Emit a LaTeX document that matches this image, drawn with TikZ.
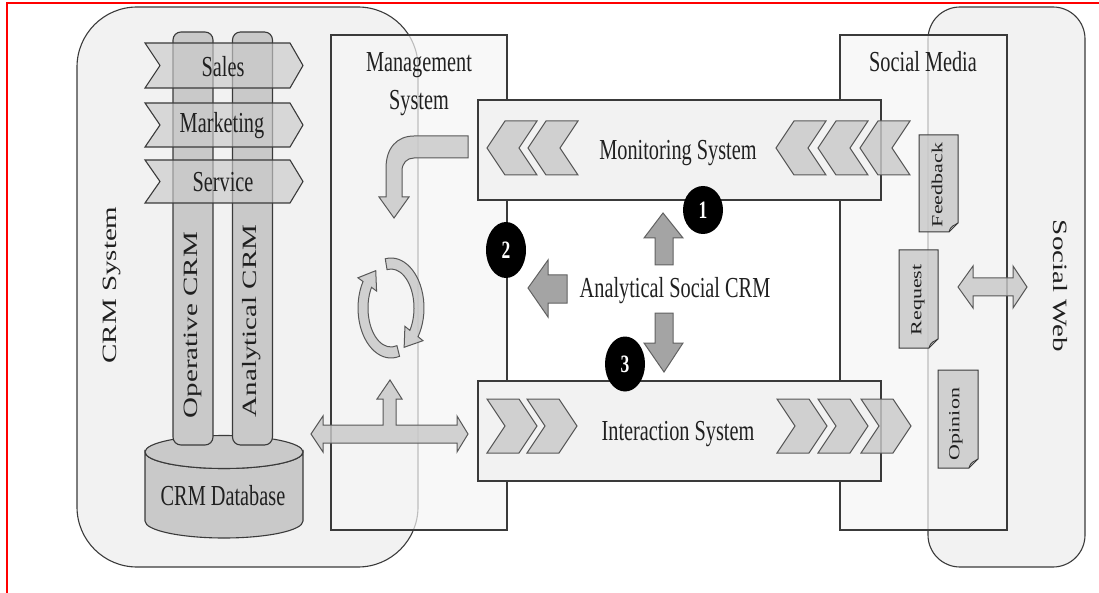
\documentclass[tikz,border=0pt]{standalone}
\usepackage{graphicx}
\usepackage{fontspec}
\setmainfont{Liberation Serif}
\usetikzlibrary{shapes.geometric}

% narrow lettering for horizontal and vertical labels
\newcommand\hsq[1]{\scalebox{0.7}[1]{#1}}
\newcommand\vsq[1]{\scalebox{1}[0.7]{#1}}

\definecolor{edge}{HTML}{3A3A3A}
\definecolor{panel}{HTML}{F2F2F2}
\definecolor{panelB}{HTML}{F5F5F5}
\definecolor{chev}{HTML}{C9C9C9}
\definecolor{darkarrow}{HTML}{A4A4A4}
\definecolor{ink}{HTML}{202020}

\tikzset{
  outerpanel/.style={draw=edge, line width=1.1pt, fill=panel},
  subsystem/.style={draw=edge, line width=1.1pt, fill=panelB, fill opacity=0.7},
  sysbox/.style={draw=edge, line width=1.1pt, fill=panel, rectangle},
  chevron/.style={draw=edge!85, line width=1pt, fill=chev, fill opacity=0.82},
  banner/.style={draw=edge, line width=1.1pt, fill=chev, fill opacity=0.65},
  crmbar/.style={draw=edge, line width=1.1pt, fill=chev, rectangle, rounded corners=8pt},
  blockarrow/.style={draw=edge!85, line width=1pt, fill=chev, fill opacity=0.82},
  centerarrow/.style={draw=edge!80, line width=1pt, fill=darkarrow},
  paper/.style={draw=edge, line width=1pt, fill=chev, fill opacity=0.82},
  badge/.style={ellipse, fill=black, text=white, minimum width=40pt,
    font=\fontsize{25}{28}\selectfont\bfseries},
  small/.style={font=\fontsize{22}{26}\selectfont},
  chevL/.pic={\path[chevron] (0,0) -- (18,-27) -- (50,-27) -- (32,0) -- (50,27) -- (18,27) -- cycle;},
  chevR/.pic={\path[chevron] (0,-27) -- (32,-27) -- (50,0) -- (32,27) -- (0,27) -- (18,0) -- cycle;}
}

% sheet of paper with a turned-down lower right corner
\newcommand\paperdoc[4]{%
  \path[paper] (#1,#2) -- (#3,#2) -- (#3,#4-9) -- (#3-9,#4) -- (#1,#4) -- cycle;
  \draw[edge, line width=0.9pt] (#3,#4-9) .. controls (#3-4,#4-6) and (#3-7,#4-7) .. (#3-9,#4);}

\begin{document}
\begin{tikzpicture}[x=1pt,y=-1pt,
  every node/.style={font=\fontsize{29}{34}\selectfont, text=ink, inner sep=0pt}]
\useasboundingbox (0,0) rectangle (1099,593);

% page frame
\draw[red, line width=2pt] (7,593) -- (7,3) -- (1099,3);

% outer systems
\path[outerpanel, rounded corners=60pt] (77,7) rectangle (418,567);
\path[outerpanel, rounded corners=32pt] (928,7) rectangle (1085,567);

% management and social media columns
\path[subsystem] (331,35) rectangle (507,530);
\path[subsystem] (840,35) rectangle (1007,530);

% CRM database cylinder
\path[draw=edge, line width=1.1pt, fill=chev]
  (145,452) -- (145,521) arc[start angle=180, end angle=0, x radius=79, y radius=17]
  -- (303,452) arc[start angle=0, end angle=180, x radius=79, y radius=16.5] -- cycle;
\draw[edge, line width=1.1pt, fill=chev] (224,452) ellipse[x radius=79, y radius=16.5];
\node[anchor=base] (dblabel) at (223,505) {\hsq{CRM Database}};

% operative and analytical columns
\node[crmbar, minimum width=40pt, minimum height=413pt] (opbar) at (193,238.5) {};
\node[crmbar, minimum width=40pt, minimum height=413pt] (anbar) at (252.5,238.5) {};
\node[rotate=90] (oplabel) at (193,325) {\vsq{Operative CRM}};
\node[rotate=90] (anlabel) at (252,321) {\vsq{Analytical CRM}};

% business processes
\path[banner] (145,43) -- (290,43) -- (303,65.5) -- (290,88) -- (145,88) -- (160,65.5) -- cycle;
\path[banner] (145,103) -- (290,103) -- (303,125) -- (290,147) -- (145,147) -- (160,125) -- cycle;
\path[banner] (145,160) -- (290,160) -- (303,181.5) -- (290,203) -- (145,203) -- (160,181.5) -- cycle;
\node[anchor=base] (sales) at (223,77) {\hsq{Sales}};
\node[anchor=base] (marketing) at (222,133) {\hsq{Marketing}};
\node[anchor=base] (service) at (223,192) {\hsq{Service}};

\node[rotate=90] (crmsys) at (112,285) {\vsq{CRM System}};

% management system labels
\node[anchor=base] (mgmt1) at (419,72) {\hsq{Management}};
\node[anchor=base] (mgmt2) at (419,110) {\hsq{System}};

% bent arrow from monitoring into management
\path[blockarrow] (468,136) -- (414,136) .. controls (397,136) and (386,148) .. (386,168)
  -- (386,197) -- (379,197) -- (394,218) -- (409,197) -- (402,197) -- (402,171)
  .. controls (402,163) and (407,158) .. (414,158) -- (468,158) -- cycle;

% management cycle
\begin{scope}[shift={(391,308)}, yscale=-1]
  \path[blockarrow] (100:33 and 50) arc[start angle=100, end angle=-35, x radius=33, y radius=50]
    -- (-35:39 and 57) -- (-62:28 and 44.5) -- (-35:17 and 32)
    -- (-35:23 and 39) arc[start angle=-35, end angle=100, x radius=23, y radius=39] -- cycle;
  \path[blockarrow] (-75:33 and 50) arc[start angle=-75, end angle=-212, x radius=33, y radius=50]
    -- (-212:39 and 57) -- (-237:28 and 44.5) -- (-212:17 and 32)
    -- (-212:23 and 39) arc[start angle=-212, end angle=-75, x radius=23, y radius=39] -- cycle;
\end{scope}

% exchange between CRM database, management and interaction
\path[blockarrow] (311,434) -- (323,416) -- (323,425) -- (383,425) -- (383,399) -- (377,399)
  -- (390,380) -- (402,399) -- (396,399) -- (396,425) -- (457,425) -- (457,416)
  -- (468,434) -- (457,452) -- (457,443) -- (323,443) -- (323,452) -- cycle;

% monitoring and interaction systems
\node[sysbox, minimum width=403pt, minimum height=100pt] (mon) at (679.5,150) {};
\node[sysbox, minimum width=403pt, minimum height=100pt] (inter) at (679.5,431) {};
\pic at (487,148) {chevL};
\pic at (528,148) {chevL};
\pic at (776,148) {chevL};
\pic at (818,148) {chevL};
\pic at (860,148) {chevL};
\pic at (487,426) {chevR};
\pic at (527,426) {chevR};
\pic at (777,426) {chevR};
\pic at (818,426) {chevR};
\pic at (861,426) {chevR};
\node[anchor=base] (monlabel) at (678,160) {\hsq{Monitoring System}};
\node[anchor=base] (interlabel) at (678,440) {\hsq{Interaction System}};

% analytical social CRM and its three outputs
\node[anchor=base] (ascrm) at (675,298) {\hsq{Analytical Social CRM}};
\path[centerarrow] (663,213) -- (683,238) -- (673,238) -- (673,265) -- (655,265) -- (655,238) -- (644,238) -- cycle;
\path[centerarrow] (664,372) -- (683,343) -- (673,343) -- (673,313) -- (655,313) -- (655,343) -- (644,343) -- cycle;
\path[centerarrow] (528,288) -- (548,260) -- (548,275) -- (567,275) -- (567,303) -- (548,303) -- (548,317) -- cycle;

\node[badge, minimum height=48pt] (b1) at (703,210) {\hsq{1}};
\node[badge, minimum height=56pt] (b2) at (506,250) {\hsq{2}};
\node[badge, minimum height=55pt] (b3) at (625,364) {\hsq{3}};

% social media contents
\paperdoc{919}{135}{958}{232}
\paperdoc{899}{250}{938}{348}
\paperdoc{938}{370}{978}{468}
\node[small, rotate=90] (feedback) at (937,185) {\vsq{Feedback}};
\node[small, rotate=90] (request) at (918,300) {\vsq{Request}};
\node[small, rotate=90] (opinion) at (956,424) {\vsq{Opinion}};

% exchange between social media and social web
\path[blockarrow] (958,287) -- (973,266) -- (973,278) -- (1013,278) -- (1013,266) -- (1027,287)
  -- (1013,308) -- (1013,296) -- (973,296) -- (973,308) -- cycle;

\node[rotate=-90] (sweb) at (1060,286) {\vsq{Social Web}};
\node[anchor=base] (smlabel) at (923,72) {\hsq{Social Media}};
\end{tikzpicture}
\end{document}
